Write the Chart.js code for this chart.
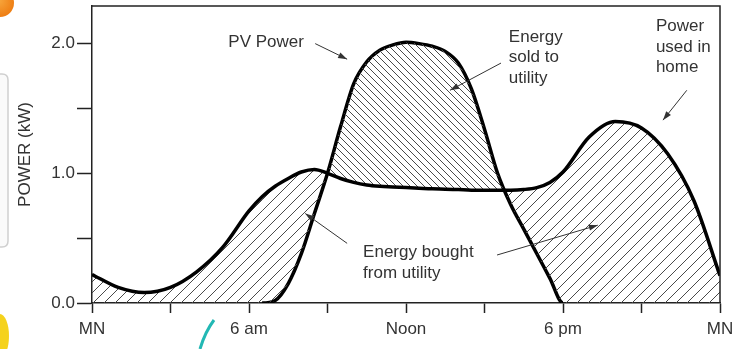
<!DOCTYPE html>
<html lang="en">
<head>
<meta charset="UTF-8">
<title>PV power vs home load</title>
<script src="https://cdn.jsdelivr.net/npm/chart.js"></script>
<style>
  html, body { margin: 0; padding: 0; background: #fff; }
  #wrap { width: 748px; height: 349px; position: relative; }
</style>
</head>
<body>
<div id="wrap"><canvas id="myChart"></canvas></div>
<script>
// hours of the day (0 = midnight)
const hours = [0, 1, 2, 3, 4, 5, 6, 6.5, 7, 7.5, 8, 8.5, 9, 9.5, 10, 10.5, 11, 11.5, 12, 12.5, 13, 13.5, 14, 14.5, 15, 15.5, 16, 16.5, 17, 17.5, 18, 19, 20, 21, 22, 23, 24];
// power used in home (kW)
const homePower = [0.22, 0.12, 0.08, 0.12, 0.24, 0.43, 0.71, 0.82, 0.90, 0.96, 1.01, 1.03, 1.00, 0.96, 0.93, 0.91, 0.90, 0.895, 0.89, 0.885, 0.88, 0.878, 0.875, 0.87, 0.87, 0.87, 0.87, 0.875, 0.89, 0.93, 1.01, 1.28, 1.40, 1.35, 1.15, 0.79, 0.21];
// PV power (kW)
const pvPower = [0, 0, 0, 0, 0, 0, 0, 0, 0.02, 0.15, 0.38, 0.69, 1.00, 1.36, 1.69, 1.86, 1.95, 1.99, 2.01, 2.00, 1.98, 1.94, 1.85, 1.65, 1.34, 1.00, 0.76, 0.57, 0.38, 0.19, 0, 0, 0, 0, 0, 0, 0];

const xTickHours = [0, 6, 12, 18, 24];
const xTickLabels = ['MN', '6 am', 'Noon', '6 pm', 'MN'];

// annotation texts, anchored in data units (hour, kW)
const notes = [
  { lines: ['PV Power'], at: [5.21, 2.01], arrow: [[8.53, 2.0], [9.75, 1.88]] },
  { lines: ['Energy', 'sold to', 'utility'], at: [15.93, 2.05], arrow: [[15.63, 1.85], [13.68, 1.64]] },
  { lines: ['Power', 'used in', 'home'], at: [21.55, 2.13], arrow: [[22.73, 1.64], [21.82, 1.41]] },
  { lines: ['Energy bought', 'from utility'], at: [10.36, 0.39], arrow: [[9.75, 0.46], [8.15, 0.69]] },
  { lines: [], at: null, arrow: [[15.48, 0.37], [19.33, 0.60]] }
];

const FONT = '"Liberation Sans", Arial, sans-serif';
const TXT = '#333';

// hatch patterns
function hatch(size, dir) {
  const c = document.createElement('canvas');
  c.width = size; c.height = size;
  const g = c.getContext('2d');
  g.strokeStyle = '#4a4a4a';
  g.lineWidth = 1;
  g.beginPath();
  if (dir === '/') {
    g.moveTo(-1, size + 1); g.lineTo(size + 1, -1);
    g.moveTo(-2, 2); g.lineTo(2, -2);
    g.moveTo(size - 2, size + 2); g.lineTo(size + 2, size - 2);
  } else {
    g.moveTo(-1, -1); g.lineTo(size + 1, size + 1);
    g.moveTo(size - 2, -2); g.lineTo(size + 2, 2);
    g.moveTo(-2, size - 2); g.lineTo(2, size + 2);
  }
  g.stroke();
  return g.createPattern(c, 'repeat');
}
const ctx = document.getElementById('myChart').getContext('2d');
const boughtHatch = hatch(11, '/');
const soldHatch = hatch(7, '\\');

function arrow(c, x1, y1, x2, y2) {
  c.beginPath();
  c.moveTo(x1, y1); c.lineTo(x2, y2);
  c.stroke();
  const a = Math.atan2(y2 - y1, x2 - x1);
  const L = 9, W = 3;
  c.beginPath();
  c.moveTo(x2, y2);
  c.lineTo(x2 - L * Math.cos(a) + W * Math.sin(a), y2 - L * Math.sin(a) - W * Math.cos(a));
  c.lineTo(x2 - L * Math.cos(a) - W * Math.sin(a), y2 - L * Math.sin(a) + W * Math.cos(a));
  c.closePath();
  c.fill();
}

const decor = {
  id: 'decor',
  afterDraw(chart) {
    const c = chart.ctx, a = chart.chartArea;
    const xs = chart.scales.x, ys = chart.scales.y;
    c.save();
    // frame top/right
    c.strokeStyle = '#222';
    c.lineWidth = 1.5;
    c.beginPath();
    c.moveTo(a.left, a.top); c.lineTo(a.right, a.top); c.lineTo(a.right, a.bottom);
    c.stroke();
    // annotations
    c.fillStyle = TXT;
    c.strokeStyle = '#333';
    c.lineWidth = 1;
    c.font = '17px ' + FONT;
    c.textBaseline = 'middle';
    c.textAlign = 'left';
    notes.forEach(n => {
      if (n.at) {
        const x = xs.getPixelForValue(n.at[0]);
        const y = ys.getPixelForValue(n.at[1]);
        n.lines.forEach((t, i) => c.fillText(t, x, y + i * 20.5));
      }
      const p = n.arrow;
      arrow(c, xs.getPixelForValue(p[0][0]), ys.getPixelForValue(p[0][1]),
               xs.getPixelForValue(p[1][0]), ys.getPixelForValue(p[1][1]));
    });
    // slide scraps around the scanned figure
    let gr = c.createRadialGradient(-2, 0, 2, 0, 2, 15);
    gr.addColorStop(0, '#f7a43a'); gr.addColorStop(1, '#ee7d12');
    c.fillStyle = gr;
    c.beginPath(); c.arc(0, 3, 14, 0, Math.PI * 2); c.fill();
    c.fillStyle = '#f5d21c';
    c.beginPath(); c.ellipse(0, 336, 9, 22, 0, 0, Math.PI * 2); c.fill();
    c.strokeStyle = '#cfcfcf';
    c.fillStyle = '#fafafa';
    c.lineWidth = 1.5;
    c.beginPath();
    c.moveTo(-2, 74); c.lineTo(2, 74); c.quadraticCurveTo(8, 74, 8, 80);
    c.lineTo(8, 241); c.quadraticCurveTo(8, 247, 2, 247); c.lineTo(-2, 247);
    c.fill(); c.stroke();
    c.strokeStyle = '#22b8b4';
    c.lineWidth = 3;
    c.beginPath(); c.moveTo(214, 320); c.quadraticCurveTo(205, 332, 200, 349); c.stroke();
    c.restore();
  }
};

new Chart(ctx, {
  type: 'line',
  data: {
    labels: hours,
    datasets: [
      {
        label: 'Power used in home',
        data: hours.map((h, i) => ({ x: h, y: homePower[i] })),
        borderColor: '#000',
        borderWidth: 3.5,
        pointRadius: 0,
        cubicInterpolationMode: 'monotone',
        fill: { target: 1, above: boughtHatch, below: soldHatch }
      },
      {
        label: 'PV Power',
        data: hours.map((h, i) => ({ x: h, y: pvPower[i] })),
        borderColor: '#000',
        borderWidth: 3.5,
        pointRadius: 0,
        cubicInterpolationMode: 'monotone',
        fill: false,
        segment: {
          borderColor: c => (c.p0.parsed.y === 0 && c.p1.parsed.y === 0) ? 'transparent' : undefined
        }
      }
    ]
  },
  options: {
    responsive: true,
    maintainAspectRatio: false,
    animation: false,
    layout: { padding: { top: 6, right: 28, left: 0, bottom: 0 } },
    plugins: {
      legend: { display: false },
      tooltip: { enabled: false }
    },
    scales: {
      x: {
        type: 'linear',
        min: 0,
        max: 24,
        afterFit: s => { s.height = 46; },
        border: { color: '#222', width: 1.5 },
        grid: { drawOnChartArea: false, tickLength: 10, color: '#222', tickWidth: 1.5 },
        ticks: {
          stepSize: 3,
          autoSkip: false,
          maxRotation: 0,
          padding: 6,
          color: TXT,
          font: { size: 17, family: FONT },
          callback: v => {
            const i = xTickHours.indexOf(v);
            return i >= 0 ? xTickLabels[i] : '';
          }
        }
      },
      y: {
        min: 0,
        max: 2.29,
        afterFit: s => { s.width = 92; s.paddingTop = 0; s.paddingBottom = 0; },
        border: { color: '#222', width: 1.5 },
        grid: { drawOnChartArea: false, tickLength: 15, color: '#222', tickWidth: 1.5 },
        title: {
          display: true,
          text: 'POWER (kW)',
          color: TXT,
          font: { size: 17, family: FONT },
          padding: { top: 15, bottom: 0 }
        },
        ticks: {
          stepSize: 0.5,
          includeBounds: false,
          padding: 2,
          color: TXT,
          font: { size: 17, family: FONT },
          callback: v => (v % 1 === 0 ? v.toFixed(1) : '')
        }
      }
    }
  },
  plugins: [decor]
});
</script>
</body>
</html>
